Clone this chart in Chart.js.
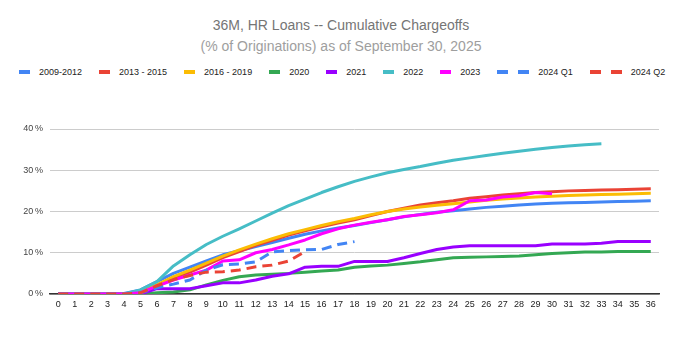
<!DOCTYPE html>
<html>
<head>
<meta charset="utf-8">
<script src="https://cdn.jsdelivr.net/npm/chart.js@4.4.1/dist/chart.umd.min.js"></script>
<style>
  html, body { margin: 0; padding: 0; background: #fff; }
  #wrap { position: relative; width: 682px; height: 337px; overflow: hidden; font-family: Arial, "Liberation Sans", sans-serif; }
  #title, #subtitle { position: absolute; left: 0; width: 682px; text-align: center; font-size: 14px; line-height: 16px; white-space: nowrap; }
  #title { top: 17px; color: #757575; }
  #subtitle { top: 38px; color: #9e9e9e; }
  #legend { position: absolute; left: 19px; top: 66px; height: 12px; display: flex; align-items: center; font-size: 9px; color: #222; white-space: nowrap; }
  .item { display: flex; align-items: center; margin-right: 17px; }
  .box { width: 11px; height: 4px; }
  .box + .box { margin-left: 10px; }
  .lbl { margin-left: 9px; line-height: 12px; }
  canvas { position: absolute; left: 0; top: 0; }
</style>
</head>
<body>
<div id="wrap">
  <div id="title">36M, HR Loans -- Cumulative Chargeoffs</div>
  <div id="subtitle">(% of Originations) as of September 30, 2025</div>
  <div id="legend"></div>
  <canvas id="c" width="682" height="337"></canvas>
</div>
<script>
const months = ["0","1","2","3","4","5","6","7","8","9","10","11","12","13","14","15","16","17","18","19","20","21","22","23","24","25","26","27","28","29","30","31","32","33","34","35","36"];
const yTicks = [0, 10, 20, 30, 40];

const s2009_2012 = [0,0,0,0,0.1,1,3,5,6.5,8,9.5,10.5,11.5,12.5,13.5,14.5,15.3,16,16.6,17.3,18,18.7,19.3,19.8,20.2,20.6,21,21.3,21.6,21.8,22,22.1,22.2,22.3,22.4,22.5,22.6];
const s2013_2015 = [0,0,0,0,0,0.5,2,3.8,5.3,7,8.8,10.3,11.8,13,14.3,15.3,16.3,17.2,18,19,20,20.8,21.6,22.1,22.6,23.2,23.6,24,24.3,24.6,24.8,25,25.1,25.2,25.3,25.4,25.5];
const s2016_2019 = [0,0,0,0,0,0.5,2.2,4.2,5.8,7.5,9.2,10.7,12.1,13.4,14.6,15.6,16.6,17.5,18.3,19.2,20,20.6,21.1,21.5,21.9,22.3,22.7,23,23.3,23.5,23.7,23.9,24,24.1,24.2,24.3,24.4];
const s2020 = [0,0,0,0,0,0,0.3,0.5,1,2.2,3.3,4.2,4.6,4.8,5,5.3,5.6,5.8,6.5,6.8,7,7.4,7.8,8.3,8.8,8.9,9,9.1,9.2,9.5,9.8,10,10.2,10.2,10.3,10.3,10.3];
const s2021 = [0,0,0,0,0,0,1.3,1.3,1.3,2,2.7,2.7,3.4,4.3,4.9,6.5,6.7,6.7,7.9,7.9,7.9,8.8,9.8,10.8,11.4,11.7,11.7,11.7,11.7,11.7,12.1,12.1,12.1,12.3,12.7,12.7,12.7];
const s2022 = [0,0,0,0,0,1,3,6.8,9.5,12,14,15.8,17.7,19.6,21.4,23,24.6,26,27.3,28.4,29.4,30.2,30.9,31.7,32.4,33,33.6,34.1,34.6,35.1,35.5,35.9,36.2,36.4];
const s2023 = [0,0,0,0,0,0.3,1.9,3.4,4.6,5.8,8,8.3,10,10.8,11.9,13.1,14.6,15.8,16.7,17.4,18,18.8,19.2,19.7,20.4,22.6,22.8,23.5,23.8,24.6,24.3];
const s2024Q1 = [0,0,0,0,0,0.3,1.5,2.4,3.4,5.8,7.1,7.3,7.8,10.2,10.5,10.7,10.8,12,12.7];
const s2024Q2 = [0,0,0,0,0,0.3,2,3.5,4.5,5.3,5.4,5.8,6.6,7,8,10.3];

const seriesNames = ["2009-2012","2013 - 2015","2016 - 2019","2020","2021","2022","2023","2024 Q1","2024 Q2"];
const seriesData = [s2009_2012, s2013_2015, s2016_2019, s2020, s2021, s2022, s2023, s2024Q1, s2024Q2];
const seriesColors = ["#4285f4","#ea4335","#fbbc04","#34a853","#9900ff","#46bdc6","#ff00ff","#4285f4","#ea4335"];
const seriesDashed = [false,false,false,false,false,false,false,true,true];

// HTML legend built from the series arrays
const legend = document.getElementById('legend');
seriesNames.forEach((name, i) => {
  const it = document.createElement('div');
  it.className = 'item';
  const n = seriesDashed[i] ? 2 : 1;
  for (let k = 0; k < n; k++) {
    const b = document.createElement('div');
    b.className = 'box';
    b.style.background = seriesColors[i];
    it.appendChild(b);
  }
  const t = document.createElement('span');
  t.className = 'lbl';
  t.textContent = name;
  it.appendChild(t);
  legend.appendChild(it);
});

const datasets = seriesNames.map((name, i) => ({
  label: name,
  data: seriesData[i],
  borderColor: seriesColors[i],
  backgroundColor: seriesColors[i],
  borderWidth: 3,
  borderDash: seriesDashed[i] ? [10, 6] : [],
  borderJoinStyle: 'round',
  pointRadius: 0,
  pointHoverRadius: 0,
  tension: 0,
  fill: false,
  order: -i
}));

new Chart(document.getElementById('c'), {
  type: 'line',
  data: { labels: months, datasets },
  options: {
    responsive: false,
    animation: false,
    devicePixelRatio: 1,
    layout: { padding: { top: 129, right: 23, left: 0, bottom: 0 } },
    plugins: { legend: { display: false }, title: { display: false }, tooltip: { enabled: false } },
    scales: {
      x: {
        type: 'category',
        offset: true,
        grid: { display: false, drawTicks: false },
        border: { display: true, color: '#333', width: 1.5 },
        ticks: { color: '#222', font: { family: 'Arial, "Liberation Sans", sans-serif', size: 9 }, padding: 5, maxRotation: 0, autoSkip: false },
        afterFit: s => { s.height = 43; }
      },
      y: {
        min: 0, max: 40,
        afterBuildTicks: s => { s.ticks = yTicks.map(v => ({ value: v })); },
        ticks: { color: '#444', font: { family: 'Arial, "Liberation Sans", sans-serif', size: 9 }, padding: 7, callback: v => v + '\u2009%' },
        grid: { color: '#cccccc', lineWidth: 1, drawTicks: false },
        border: { display: false },
        afterFit: s => { s.width = 50; }
      }
    }
  }
});
</script>
</body>
</html>
